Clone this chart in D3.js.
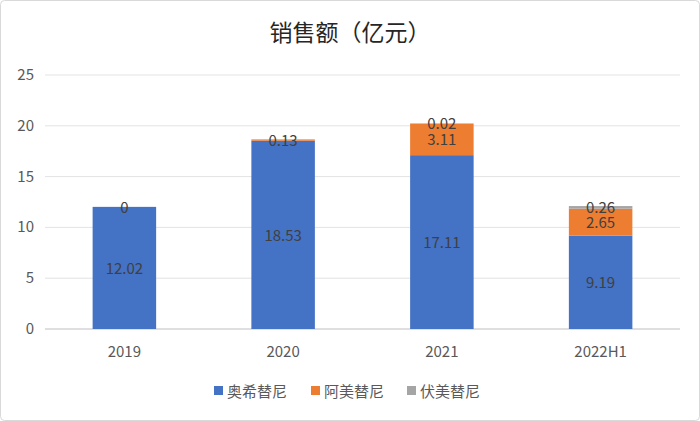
<!DOCTYPE html>
<html><head><meta charset="utf-8">
<script src="https://cdn.jsdelivr.net/npm/d3@7"></script>
<style>body{margin:0;background:#fff;font-family:"Noto Sans CJK SC","Noto Sans",sans-serif;}</style>
</head><body>
<svg id="chart" width="700" height="421"></svg>
<script>
// chart data
var categories = ["2019", "2020", "2021", "2022H1"];
var seriesNames = ["奥希替尼", "阿美替尼", "伏美替尼"];
var osimertinib = [12.02, 18.53, 17.11, 9.19];
var almonertinib = [0, 0.13, 3.11, 2.65];
var furmonertinib = [0, 0, 0.02, 0.26];
var yTicks = [0, 5, 10, 15, 20, 25];
var colors = ["#4472C4", "#ED7D31", "#A5A5A5"];

var svg = d3.select("#chart");
svg.append("rect").attr("x", 0.5).attr("y", 0.5).attr("width", 699).attr("height", 420)
    .attr("rx", 4).attr("fill", "#fff").attr("stroke", "#d9d9d9");

var x = d3.scaleBand().domain(categories).range([45, 680]).paddingInner(0.6).paddingOuter(0.3);
var y = d3.scaleLinear().domain([0, 25]).range([329, 75]);

// gridlines
svg.selectAll(".grid").data(yTicks).enter().append("line")
    .attr("x1", 45).attr("x2", 680)
    .attr("y1", d => y(d)).attr("y2", d => y(d))
    .attr("stroke", d => d === 0 ? "#bfbfbf" : "#e3e3e3");

// y labels
svg.selectAll(".ylab").data(yTicks).enter().append("text")
    .attr("x", 34).attr("y", d => y(d) + 5).attr("text-anchor", "end")
    .attr("font-size", 15).attr("fill", "#595959").text(d => d);

// x labels
svg.selectAll(".xlab").data(categories).enter().append("text")
    .attr("x", d => x(d) + x.bandwidth() / 2).attr("y", 357).attr("text-anchor", "middle")
    .attr("font-size", 15).attr("fill", "#595959").text(d => d);

var rows = categories.map((c, i) => ({ cat: c, v: [osimertinib[i], almonertinib[i], furmonertinib[i]] }));
var stack = d3.stack().keys([0, 1, 2]).value((d, k) => d.v[k]);
var layers = stack(rows);

layers.forEach((layer, k) => {
    svg.selectAll(".bar" + k).data(layer).enter().append("rect")
        .attr("x", d => x(d.data.cat)).attr("width", x.bandwidth())
        .attr("y", d => y(d[1])).attr("height", d => y(d[0]) - y(d[1]))
        .attr("fill", colors[k]);
});

// value labels
layers.forEach((layer, k) => {
    layer.forEach((d, i) => {
        var val = d.data.v[k];
        if (k === 2 && val === 0) return;
        if (k === 1 && val === 0 && i !== 0) return;
        var cy = y((d[0] + d[1]) / 2);
        if (k === 1 && i === 0) cy = y(d[1]);
        svg.append("text").attr("x", x(d.data.cat) + x.bandwidth() / 2).attr("y", cy + 6)
            .attr("text-anchor", "middle").attr("font-size", 15).attr("fill", "#404040").text(val);
    });
});

// title
svg.append("text").attr("x", 350).attr("y", 41).attr("text-anchor", "middle")
    .attr("font-size", 23).attr("fill", "#262626").text("销售额（亿元）");

// legend
var lx = [214, 311, 407];
seriesNames.forEach((n, k) => {
    svg.append("rect").attr("x", lx[k]).attr("y", 386).attr("width", 9).attr("height", 9).attr("fill", colors[k]);
    svg.append("text").attr("x", lx[k] + 13).attr("y", 397).attr("font-size", 15)
        .attr("fill", "#595959").text(n);
});
</script>
</body></html>
